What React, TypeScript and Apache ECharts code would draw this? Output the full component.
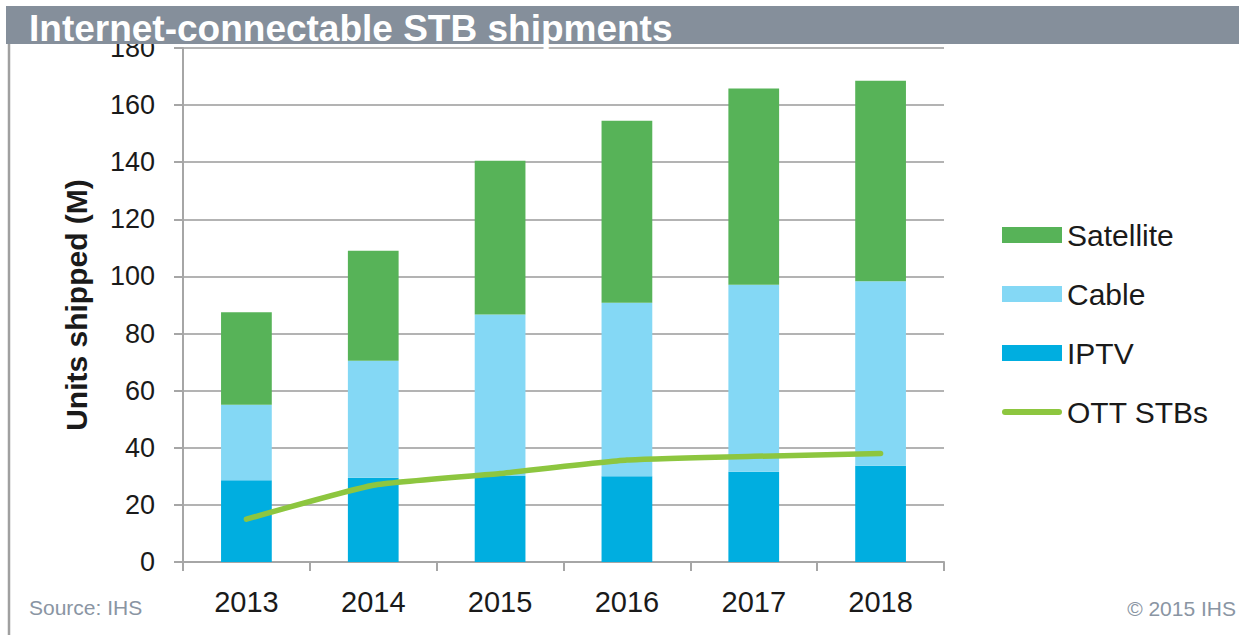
import React, { useEffect, useRef } from "react";
import * as echarts from "echarts";

const categories = ["2013", "2014", "2015", "2016", "2017", "2018"];
const iptv = [28.6, 29.5, 30.1, 30.0, 31.6, 33.7];
const cable = [26.5, 41.0, 56.6, 60.8, 65.5, 64.6];
const satellite = [32.4, 38.5, 53.8, 63.7, 68.7, 70.2];
const ott = [15.0, 26.9, 31.0, 35.7, 37.0, 38.0];

const FONT = "Liberation Sans, Arial, Helvetica, sans-serif";
const LINE_ICON = "path://M3,0 L57,0 A3,3 0 0 1 57,6 L3,6 A3,3 0 0 1 3,0 Z";

export default function App() {
  const ref = useRef<HTMLDivElement>(null);
  useEffect(() => {
    if (!ref.current) return;
    const chart = echarts.init(ref.current, null, { renderer: "svg" });
    chart.setOption({
      animation: false,
      backgroundColor: "#ffffff",
      textStyle: { fontFamily: FONT },
      grid: { left: 183, right: 295, top: 48, bottom: 73, containLabel: false },
      legend: {
        orient: "vertical",
        left: 1002,
        top: 220,
        padding: 0,
        itemWidth: 60,
        itemHeight: 16,
        itemGap: 29,
        textStyle: { fontSize: 30, color: "#1a1a1a", fontFamily: FONT },
        data: [
          { name: "Satellite", icon: "rect" },
          { name: "Cable", icon: "rect" },
          { name: "IPTV", icon: "rect" },
          { name: "OTT STBs", icon: LINE_ICON },
        ],
      },
      xAxis: {
        type: "category",
        data: categories,
        boundaryGap: true,
        axisLine: { lineStyle: { color: "#a6a6a6", width: 2 } },
        axisTick: { show: true, length: 9, lineStyle: { color: "#a6a6a6", width: 2 } },
        axisLabel: { fontSize: 29, color: "#1a1a1a", margin: 25, fontFamily: FONT },
      },
      yAxis: {
        type: "value",
        min: 0,
        max: 180,
        interval: 20,
        name: "Units shipped (M)",
        nameLocation: "middle",
        nameRotate: 90,
        nameGap: 92,
        nameTextStyle: {
          fontSize: 30,
          fontWeight: "bold",
          color: "#1a1a1a",
          fontFamily: FONT,
        },
        axisLine: { show: true, lineStyle: { color: "#a6a6a6", width: 2 } },
        axisTick: { show: true, length: 9, lineStyle: { color: "#a6a6a6", width: 2 } },
        axisLabel: { fontSize: 27, color: "#1a1a1a", margin: 28, fontFamily: FONT },
        splitLine: { lineStyle: { color: "#b3b3b3", width: 2 } },
      },
      series: [
        {
          name: "IPTV",
          type: "bar",
          stack: "total",
          data: iptv,
          barWidth: "40%",
          itemStyle: { color: "#00aee0" },
        },
        {
          name: "Cable",
          type: "bar",
          stack: "total",
          data: cable,
          itemStyle: { color: "#84d8f5" },
        },
        {
          name: "Satellite",
          type: "bar",
          stack: "total",
          data: satellite,
          itemStyle: { color: "#57b358" },
        },
        {
          name: "OTT STBs",
          type: "line",
          data: ott,
          smooth: 0.15,
          symbol: "none",
          showSymbol: false,
          z: 5,
          itemStyle: { color: "#8dc63f" },
          lineStyle: { color: "#8dc63f", width: 5.5, cap: "round", join: "round" },
        },
      ],
      graphic: [
        {
          type: "rect",
          z: 100,
          shape: { x: 6, y: 6, width: 1233, height: 38 },
          style: { fill: "#858f9b" },
        },
        {
          type: "line",
          z: 100,
          shape: { x1: 9, y1: 44, x2: 9, y2: 635 },
          style: { stroke: "#a0a0a0", lineWidth: 2.5 },
        },
        {
          type: "text",
          z: 101,
          left: 29,
          top: 10,
          style: {
            text: "Internet-connectable STB shipments",
            fill: "#ffffff",
            font: `bold 37px ${FONT}`,
          },
        },
        {
          type: "text",
          z: 101,
          left: 29,
          top: 597,
          style: { text: "Source: IHS", fill: "#8a95a3", font: `21px ${FONT}` },
        },
        {
          type: "text",
          z: 101,
          right: 3,
          top: 598,
          style: { text: "© 2015 IHS", fill: "#8a95a3", font: `21px ${FONT}` },
        },
      ],
    });
    return () => chart.dispose();
  }, []);
  return (
    <div
      ref={ref}
      style={{ position: "fixed", left: 0, top: 0, width: 1239, height: 635 }}
    />
  );
}
